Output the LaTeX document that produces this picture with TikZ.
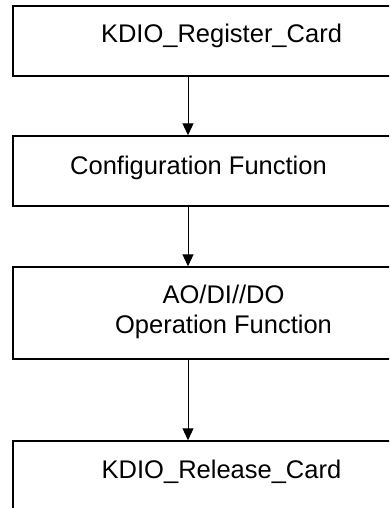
\documentclass[tikz,border=0pt]{standalone}
\usepackage{fontspec}
\setmainfont{Liberation Sans}
\usetikzlibrary{arrows.meta}
\begin{document}
\begin{tikzpicture}[x=1pt,y=-1pt,
  box/.style={draw, line width=1.4pt, inner sep=0pt, minimum width=417pt},
  lbl/.style={anchor=base, inner sep=0pt, font=\fontsize{25.5}{30}\selectfont, text=black},
  flow/.style={line width=0.9pt, -{Triangle[width=11pt,length=12pt]}}]
\useasboundingbox (0,0) rectangle (389,508);
\clip (0,0) rectangle (389,508);
\node[box, minimum height=70pt] (b1) at (221.5,41) {};
\node[box, minimum height=70pt] (b2) at (221.5,171) {};
\node[box, minimum height=92pt] (b3) at (221.5,313) {};
\node[box, minimum height=79pt] (b4) at (221.5,480.5) {};
\node[lbl] (t1) at (221.5,43) {KDIO\_Register\_Card};
\node[lbl] (t2) at (198.5,174) {Configuration Function};
\node[lbl] (t3a) at (223.5,303) {AO/DI//DO};
\node[lbl] (t3b) at (223.5,333) {Operation Function};
\node[lbl] (t4) at (221.5,478) {KDIO\_Release\_Card};
\coordinate (ax) at (188,0);
\draw[flow] (b1.south -| ax) -- (b2.north -| ax);
\draw[flow] (b2.south -| ax) -- (b3.north -| ax);
\draw[flow] (b3.south -| ax) -- (b4.north -| ax);
\end{tikzpicture}
\end{document}
